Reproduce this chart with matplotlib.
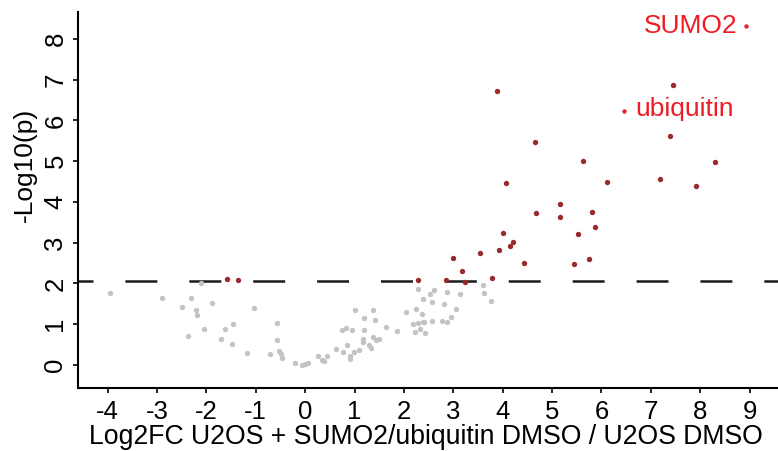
import matplotlib
matplotlib.use("Agg")
import matplotlib.pyplot as plt
import numpy as np

plt.rcParams['font.family'] = ['Liberation Sans', 'DejaVu Sans']
plt.rcParams['lines.scale_dashes'] = False
plt.rcParams['axes.unicode_minus'] = False

# not significant (grey)
ns_x = [-3.96, -2.89, -2.32, -2.49, -2.21, -2.20, -2.10, -1.88, -2.37, -2.04,
        -1.63, -1.46, -1.70, -1.48, -1.03, -1.17, -0.58, -0.58, -0.72, -0.52,
        -0.48, -0.46, -0.20, -0.06, 0.00, 0.05, 0.27, 0.34, 0.39, 0.45,
        0.62, 0.76, 0.74, 0.83, 0.95, 1.00, 0.85, 0.91, 0.91, 0.98,
        1.10, 1.17, 1.18, 1.20, 1.19, 1.30, 1.33, 1.38, 1.42, 1.38,
        1.44, 1.50, 1.63, 1.86, 2.05, 2.25, 2.37, 2.19, 2.28, 2.38,
        2.40, 2.23, 2.33, 2.42, 2.29, 2.38, 2.52, 2.61, 2.56, 2.56,
        2.78, 2.87, 2.82, 2.88, 2.96, 3.06, 3.14, 3.60, 3.63, 3.77]
ns_y = [1.77, 1.64, 1.64, 1.42, 1.36, 1.22, 2.00, 1.51, 0.72, 0.88,
        0.88, 1.01, 0.65, 0.52, 1.40, 0.29, 1.02, 0.61, 0.26, 0.35,
        0.28, 0.16, 0.06, 0.00, 0.02, 0.04, 0.22, 0.12, 0.10, 0.22,
        0.39, 0.33, 0.87, 0.92, 0.87, 1.35, 0.50, 0.22, 0.14, 0.33,
        0.38, 0.65, 0.57, 0.87, 1.16, 0.50, 0.41, 1.35, 1.10, 0.68,
        0.61, 0.63, 0.93, 0.83, 1.29, 1.37, 1.26, 1.01, 1.04, 1.06,
        1.05, 0.82, 0.89, 0.78, 1.86, 1.61, 1.75, 1.83, 1.55, 1.08,
        1.09, 1.06, 1.49, 1.79, 1.18, 1.37, 1.75, 1.97, 1.76, 1.56]

# significant (dark red)
sig_x = [-1.59, -1.37, 2.29, 2.85, 2.99, 3.17, 3.23, 3.55, 3.79, 3.92,
         3.89, 4.66, 4.06, 5.63, 6.11, 7.45, 7.38, 7.18, 7.92, 8.29,
         5.17, 5.16, 4.68, 5.80, 5.86, 5.53, 4.01, 4.20, 4.14, 4.43,
         5.45, 5.75]
sig_y = [2.10, 2.09, 2.09, 2.08, 2.63, 2.31, 2.04, 2.75, 2.14, 2.82,
         6.72, 5.47, 4.46, 5.01, 4.48, 6.88, 5.62, 4.56, 4.38, 4.99,
         3.94, 3.63, 3.72, 3.76, 3.39, 3.22, 3.24, 3.02, 2.92, 2.50,
         2.47, 2.60]

# labelled proteins
hl_names = ['SUMO2', 'ubiquitin']
hl_x = [8.93, 6.45]
hl_y = [8.32, 6.24]

threshold = 2.05

fig = plt.figure(figsize=(7.78, 4.51), dpi=100)
ax = fig.add_axes([78 / 778, 63 / 451, 700 / 778, 376 / 451])

ax.scatter(ns_x, ns_y, s=15, color='#c3c3c3', linewidths=0, zorder=2)
ax.scatter(sig_x, sig_y, s=15, color='#992a2c', linewidths=0, zorder=3)
ax.scatter(hl_x, hl_y, s=10, color='#e8202a', linewidths=0, zorder=3)

# labels: SUMO2 to the left of its point, ubiquitin to the right
ax.annotate(hl_names[0], (hl_x[0], hl_y[0]), xytext=(-6.5, 0), textcoords='offset points',
            ha='right', va='center', color='#ee1c25', fontsize=19)
ax.annotate(hl_names[1], (hl_x[1], hl_y[1]), xytext=(8, 1), textcoords='offset points',
            ha='left', va='center', color='#ee1c25', fontsize=19)

ax.axhline(threshold, color='#1a1a1a', lw=1.8, linestyle=(12.2, (23, 23)), zorder=1)

ax.set_xlim(-4.6, 9.575)
ax.set_ylim(-0.564, 8.66)
ax.set_xticks(np.arange(-4, 10))
ax.set_yticks(np.arange(0, 9))

for side in ['top', 'right']:
    ax.spines[side].set_visible(False)
for side in ['left', 'bottom']:
    ax.spines[side].set_linewidth(1.5)

ax.tick_params(axis='both', direction='out', length=3.6, width=1.2, labelsize=18.5, pad=5)
ax.tick_params(axis='y', labelrotation=90, pad=4)
for lab in ax.get_yticklabels():
    lab.set_va('center')

fig.text(25 / 778, 1 - 165 / 451, '-Log10(p)', rotation=90, ha='center', va='center', fontsize=19)
fig.text(425.5 / 778, 1 - 437 / 451, 'Log2FC U2OS + SUMO2/ubiquitin DMSO / U2OS DMSO',
         ha='center', va='center', fontsize=19.2)

fig.savefig('out.png', dpi=100)
